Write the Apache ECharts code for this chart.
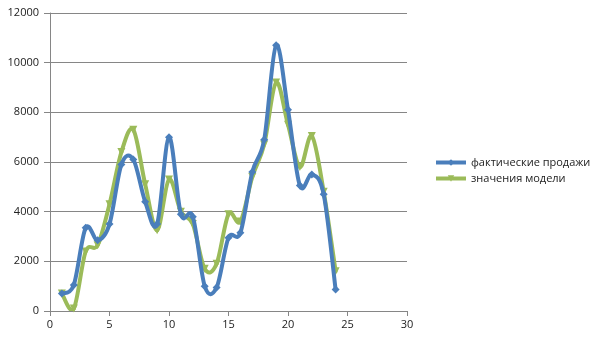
<!DOCTYPE html>
<html>
<head>
<meta charset="utf-8">
<script src="https://cdn.jsdelivr.net/npm/echarts@6/dist/echarts.min.js"></script>
<style>
html,body{margin:0;padding:0;background:#fff;}
#chart{width:605px;height:340px;}
</style>
</head>
<body>
<div id="chart"></div>
<script>
var xValues = [1,2,3,4,5,6,7,8,9,10,11,12,13,14,15,16,17,18,19,20,21,22,23,24];
var actualSales = [700,1050,3350,2850,3500,5900,6100,4400,3500,7000,3900,3800,1000,950,2950,3150,5600,6900,10700,8100,5050,5500,4700,870];
var modelValues = [700,100,2400,2650,4300,6400,7300,5100,3250,5300,4000,3500,1700,1900,3900,3600,5400,6700,9200,7500,5800,7050,4800,1600];
var seriesNames = ['фактические продажи','значения модели'];
var seriesColors = ['#4A7EBB','#9BBB59'];
var xTicks = {min:0,max:30,interval:5};
var yTicks = {min:0,max:12000,interval:2000};

function pairs(ys){ return xValues.map(function(x,i){ return [x, ys[i]]; }); }

// Excel-like smoothed curve: one cubic Bezier per segment, control points from neighbours (Catmull-Rom),
// all positions obtained from the chart's own axes via api.coord.
function curveSeries(ys, color, z){
  var n = xValues.length;
  return {
    type:'custom', z:z, silent:true,
    data: pairs(ys).slice(0, n-1),
    encode:{x:0,y:1},
    renderItem:function(params, api){
      var i = params.dataIndex;
      var P = function(j){ j = Math.max(0, Math.min(n-1, j)); return api.coord([xValues[j], ys[j]]); };
      var p0 = P(i-1), p1 = P(i), p2 = P(i+1), p3 = P(i+2);
      var k = 1/6;
      var cs = params.coordSys;
      return {
        type:'bezierCurve',
        shape:{
          x1:p1[0], y1:p1[1], x2:p2[0], y2:p2[1],
          cpx1:p1[0] + (p2[0]-p0[0])*k, cpy1:p1[1] + (p2[1]-p0[1])*k,
          cpx2:p2[0] - (p3[0]-p1[0])*k, cpy2:p2[1] - (p3[1]-p1[1])*k
        },
        style:{stroke:color, lineWidth:4, fill:null, lineCap:'round'},
        clipPath:{type:'rect', shape:{x:cs.x, y:cs.y, width:cs.width, height:cs.height}}
      };
    }
  };
}

var font = '"Open Sans", "DejaVu Sans", sans-serif';
var gray = '#868686';
var chart = echarts.init(document.getElementById('chart'), null, {renderer:'canvas'});
chart.setOption({
  animation:false,
  backgroundColor:'#fff',
  textStyle:{fontFamily:font},
  grid:{left:50,top:13,right:198,bottom:29,containLabel:false},
  legend:{
    orient:'vertical', left:434, top:157, padding:0,
    itemWidth:30, itemHeight:8, itemGap:5,
    textStyle:{fontFamily:font,fontSize:11,color:'#222'},
    lineStyle:{opacity:1,width:4},
    data:seriesNames
  },
  xAxis:{
    type:'value', min:xTicks.min, max:xTicks.max, interval:xTicks.interval,
    axisLine:{show:true,onZero:false,lineStyle:{color:gray,width:1}},
    axisTick:{show:true,inside:false,length:5,lineStyle:{color:gray}},
    axisLabel:{color:'#222',fontFamily:font,fontSize:11,margin:8},
    splitLine:{show:false}
  },
  yAxis:{
    type:'value', min:yTicks.min, max:yTicks.max, interval:yTicks.interval,
    axisLine:{show:true,lineStyle:{color:gray,width:1}},
    axisTick:{show:true,inside:false,length:6,lineStyle:{color:gray}},
    axisLabel:{color:'#222',fontFamily:font,fontSize:11,margin:11,formatter:function(v){return String(v);}},
    splitLine:{show:true,lineStyle:{color:gray,width:1}}
  },
  series:[
    curveSeries(modelValues, seriesColors[1], 2),
    {
      name:seriesNames[1], type:'line', data:pairs(modelValues), z:3,
      symbol:'triangle', symbolRotate:180, symbolSize:8, showAllSymbol:true,
      lineStyle:{color:seriesColors[1],width:4,opacity:0},
      itemStyle:{color:seriesColors[1]}
    },
    curveSeries(actualSales, seriesColors[0], 4),
    {
      name:seriesNames[0], type:'line', data:pairs(actualSales), z:5,
      symbol:'diamond', symbolSize:8, showAllSymbol:true,
      lineStyle:{color:seriesColors[0],width:4,opacity:0},
      itemStyle:{color:seriesColors[0]}
    }
  ]
});
</script>
</body>
</html>
